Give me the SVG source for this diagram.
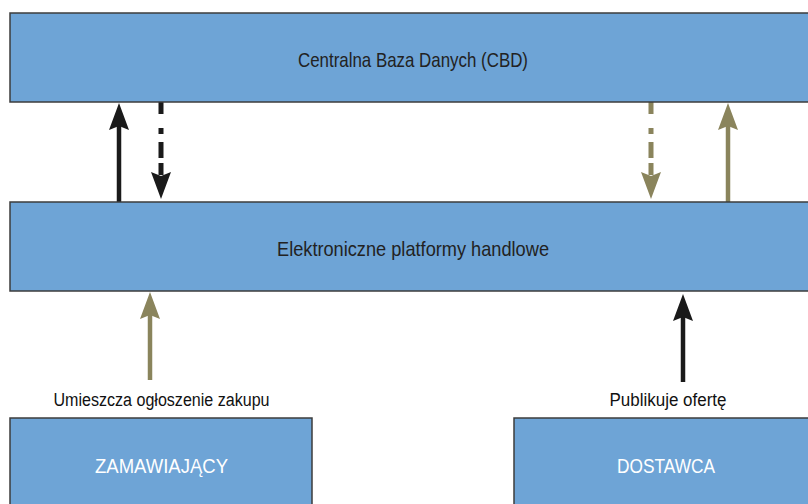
<svg xmlns="http://www.w3.org/2000/svg" width="808" height="504" viewBox="0 0 808 504">
<style>
.box{fill:#6ea4d6;stroke:#3c3c3c;stroke-width:1.5}
.lbl{font-family:"Liberation Sans",Arial,sans-serif;font-size:21px;fill:#222;text-anchor:middle}
.wl{font-family:"Liberation Sans",Arial,sans-serif;font-size:20px;fill:#fff;text-anchor:middle}
.cap{font-family:"Liberation Sans",Arial,sans-serif;font-size:18px;fill:#111;text-anchor:middle}
.k{stroke:#1a1a1a;fill:none}
.o{stroke:#8a845c;fill:none}
.s{stroke-width:4.5}
.d{stroke-width:5;stroke-dasharray:12 14 6 8 16 5}
</style>
<defs>
<marker id="hk" markerUnits="userSpaceOnUse" markerWidth="30" markerHeight="24" viewBox="0 -12 30 24" refX="4" refY="0" orient="auto">
<path d="M0,-10 L27,0 L0,10 L4,0 Z" fill="#1a1a1a"/>
</marker>
<marker id="ho" markerUnits="userSpaceOnUse" markerWidth="30" markerHeight="24" viewBox="0 -12 30 24" refX="4" refY="0" orient="auto">
<path d="M0,-10 L27,0 L0,10 L4,0 Z" fill="#8a845c"/>
</marker>
</defs>
<g id="connectors">
<line class="k s" x1="119" y1="202" x2="119" y2="126" marker-end="url(#hk)"/>
<line class="k d" x1="161" y1="102" x2="161" y2="176" marker-end="url(#hk)"/>
<line class="o d" x1="651" y1="102" x2="651" y2="176" marker-end="url(#ho)"/>
<line class="o s" x1="728" y1="202" x2="728" y2="126" marker-end="url(#ho)"/>
<line class="o s" x1="150" y1="380" x2="150" y2="315" marker-end="url(#ho)"/>
<line class="k s" x1="683" y1="382" x2="683" y2="317" marker-end="url(#hk)"/>
<text class="cap" x="161.5" y="406" textLength="216" lengthAdjust="spacingAndGlyphs">Umieszcza ogłoszenie zakupu</text>
<text class="cap" x="668" y="406" textLength="117" lengthAdjust="spacingAndGlyphs">Publikuje ofertę</text>
</g>
<g id="cbd">
<rect class="box" x="10" y="13" width="808" height="89"/>
<text class="lbl" x="413" y="67" textLength="230" lengthAdjust="spacingAndGlyphs">Centralna Baza Danych (CBD)</text>
</g>
<g id="platformy">
<rect class="box" x="10" y="202" width="808" height="89"/>
<text class="lbl" x="413" y="256" textLength="272" lengthAdjust="spacingAndGlyphs">Elektroniczne platformy handlowe</text>
</g>
<g id="zamawiajacy">
<rect class="box" x="10" y="418" width="302" height="100"/>
<text class="wl" x="161.5" y="473" textLength="133" lengthAdjust="spacingAndGlyphs">ZAMAWIAJĄCY</text>
</g>
<g id="dostawca">
<rect class="box" x="514" y="418" width="310" height="100"/>
<text class="wl" x="666" y="473" textLength="98" lengthAdjust="spacingAndGlyphs">DOSTAWCA</text>
</g>
</svg>
